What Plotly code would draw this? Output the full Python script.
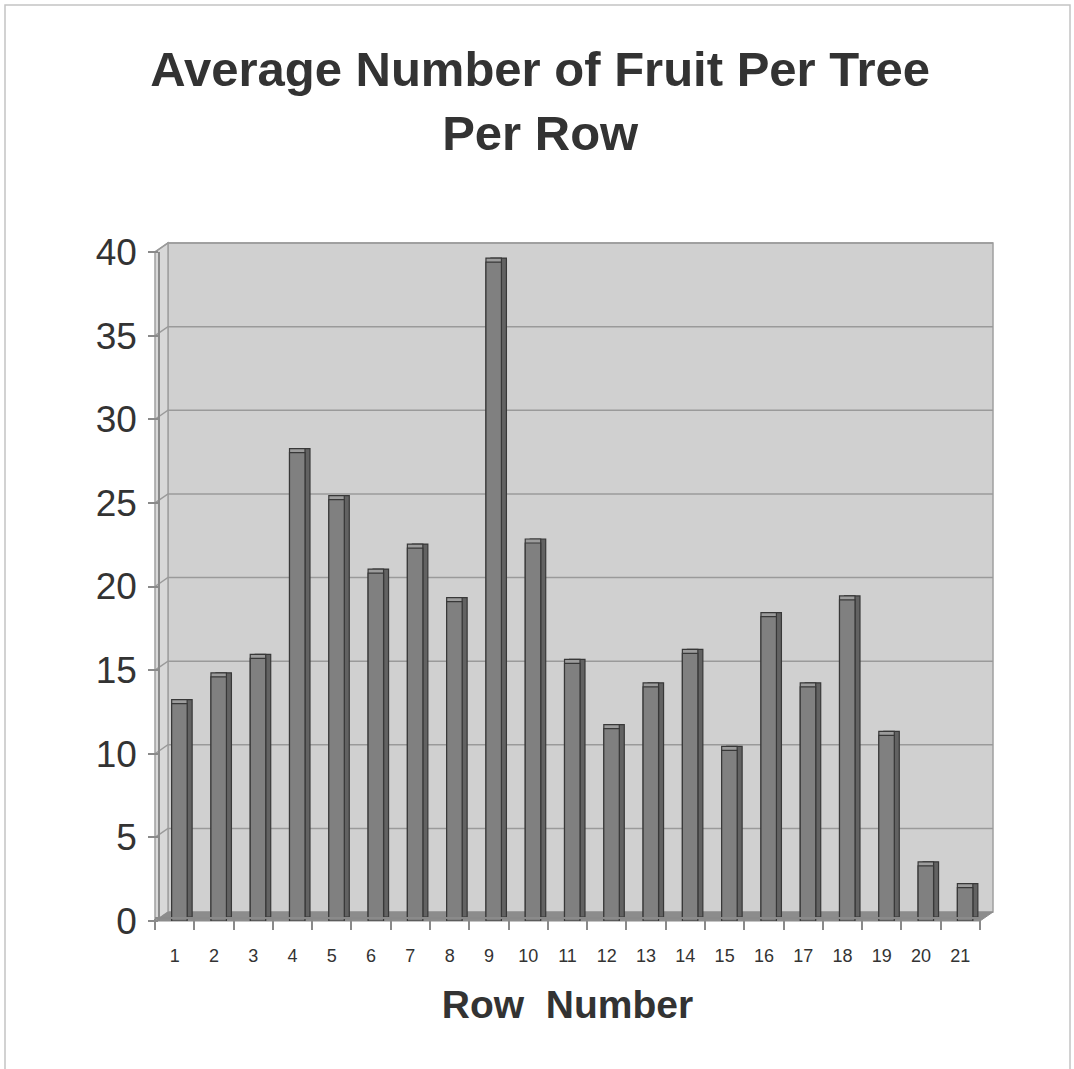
import plotly.graph_objects as go

rows = list(range(1, 22))
avg_fruit = [13.0, 14.6, 15.7, 28.0, 25.2, 20.8, 22.3, 19.1, 39.4, 22.6, 15.4,
             11.5, 14.0, 16.0, 10.2, 18.2, 14.0, 19.2, 11.1, 3.3, 2.0]
y_ticks = [0, 5, 10, 15, 20, 25, 30, 35, 40]
x_labels = [str(r) for r in rows]

W, H = 1074, 1069
L, R, T, B = 155, 993, 243, 921
pw, ph = R - L, B - T
dxp, dyp = 13 / pw, 9 / ph          # back-wall depth offset (paper units)
fx1, fy1 = 1 - dxp, 1 - dyp         # front-axis domain ends
bdx, bdy = 5 / pw, 4 / ph           # bar depth offset
YMAX = 40

def fy(v):
    return v / YMAX * fy1

def by(v):
    return dyp + v / YMAX * (1 - dyp)

shapes = []
# back wall
shapes.append(dict(type="rect", xref="paper", yref="paper", x0=dxp, x1=1, y0=dyp, y1=1,
                   fillcolor="#d0d0d0", line=dict(color="#a0a0a0", width=1.5), layer="below"))
# left side wall
shapes.append(dict(type="path", xref="paper", yref="paper",
                   path=f"M 0,0 L {dxp},{dyp} L {dxp},1 L 0,{fy1} Z",
                   fillcolor="#d8d8d8", line=dict(color="#a0a0a0", width=1.5), layer="below"))
# floor
shapes.append(dict(type="path", xref="paper", yref="paper",
                   path=f"M 0,0 L {fx1},0 L 1,{dyp} L {dxp},{dyp} Z",
                   fillcolor="#8c8c8c", line=dict(color="#8c8c8c", width=1), layer="below"))
# gridlines
for v in y_ticks[1:]:
    shapes.append(dict(type="path", xref="paper", yref="paper",
                       path=f"M 0,{fy(v)} L {dxp},{by(v)} L 1,{by(v)}",
                       line=dict(color="#9a9a9a", width=1.5), layer="below"))
# outer border (left, top, right)
def px_x(x):
    return (x - L) / pw

def px_y(y):
    return (B - y) / ph

shapes.append(dict(type="path", xref="paper", yref="paper",
                   path=(f"M {px_x(5)},{px_y(1069)} L {px_x(5)},{px_y(5)} "
                         f"L {px_x(1070)},{px_y(5)} L {px_x(1070)},{px_y(1069)}"),
                   line=dict(color="#c4c4c4", width=1.5), layer="below"))

bar_off = -0.076
bar_w = 0.394

fig = go.Figure()
# side/depth copy (dark)
fig.add_trace(go.Bar(x=rows, y=avg_fruit, xaxis="x", yaxis="y", offset=bar_off, width=bar_w,
                     marker=dict(color="#626262", line=dict(color="#383838", width=1.2)),
                     hoverinfo="skip", showlegend=False))
# top copy (light)
fig.add_trace(go.Bar(x=rows, y=avg_fruit, xaxis="x2", yaxis="y2", offset=bar_off, width=bar_w,
                     marker=dict(color="#9c9c9c", line=dict(color="#383838", width=1.2)),
                     hoverinfo="skip", showlegend=False))
# front face
fig.add_trace(go.Bar(x=rows, y=avg_fruit, xaxis="x3", yaxis="y3", offset=bar_off, width=bar_w,
                     marker=dict(color="#808080", line=dict(color="#383838", width=1.2)),
                     name="Average", showlegend=False))

hidden = dict(visible=False, showgrid=False, zeroline=False, fixedrange=True)
fig.update_layout(
    width=W, height=H,
    margin=dict(l=L, r=W - R, t=T, b=H - B, pad=0),
    paper_bgcolor="white", plot_bgcolor="rgba(0,0,0,0)",
    font=dict(family="Liberation Sans, Arial, sans-serif", color="#333333"),
    title=dict(text="<b>Average Number of Fruit Per Tree<br>Per Row</b>",
               x=0.503, xref="container", y=1 - 86 / H, yref="container",
               xanchor="center", yanchor="middle",
               font=dict(size=49, color="#333333")),
    xaxis=dict(domain=[bdx, fx1 + bdx], range=[0.5, 21.5], **hidden),
    yaxis=dict(domain=[bdy, fy1 + bdy], range=[0, YMAX], **hidden),
    xaxis2=dict(domain=[0, fx1], range=[0.5, 21.5], **hidden),
    yaxis2=dict(domain=[bdy, fy1 + bdy], range=[0, YMAX], **hidden),
    xaxis3=dict(domain=[0, fx1], range=[0.5, 21.5], tickmode="array", tickvals=rows,
                ticktext=x_labels, ticks="outside", ticklen=11, tickcolor="rgba(0,0,0,0)",
                tickfont=dict(size=18, color="#333333"), showline=True, linecolor="#8a8a8a",
                linewidth=1.5, showgrid=False, zeroline=False, fixedrange=True,
                ticklabelstandoff=11,
                minor=dict(tickvals=[r + 0.5 for r in range(0, 22)], ticks="outside",
                           ticklen=11, tickcolor="#8a8a8a", tickwidth=1.5, showgrid=False),
                title=dict(text="<b>Row\u00a0 Number</b>", font=dict(size=39, color="#333333"),
                           standoff=25)),
    yaxis3=dict(domain=[0, fy1], range=[0, YMAX], tickmode="array", tickvals=y_ticks,
                ticks="outside", ticklen=10, tickcolor="#8a8a8a", tickwidth=1.5,
                tickfont=dict(size=37, color="#333333"), showline=True, linecolor="#8a8a8a",
                linewidth=1.5, showgrid=False, zeroline=False, fixedrange=True,
                ticklabelstandoff=4),
    shapes=shapes,
    bargap=0.6,
)

fig.write_html("out.html", config={"displayModeBar": False},
               post_script="document.body.style.margin='0px';")
